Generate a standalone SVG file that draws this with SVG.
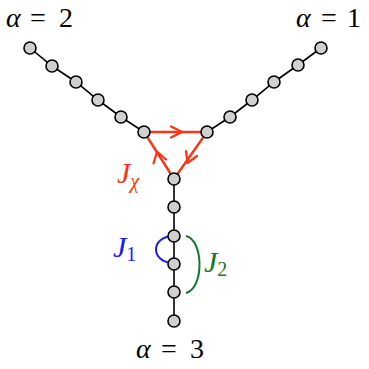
<svg xmlns="http://www.w3.org/2000/svg" width="369" height="369" viewBox="0 0 369 369">
<style>
.n{fill:#d0d0d0;stroke:#000;stroke-width:1.6}
.e{stroke:#000;stroke-width:1.6;fill:none}
.r{stroke:#ff3311;stroke-width:2.4;fill:none}
.ah{stroke:#ff3311;stroke-width:2.2;fill:none;stroke-linecap:round;stroke-linejoin:round}
</style>
<rect width="369" height="369" fill="#fff"/>
<g id="connectors">
<polyline class="e" points="30,48 52,66 76,82 98,100 121,117 144,132"/>
<polyline class="e" points="321,48 298,65 274,82 252,100 230,117 207,132"/>
<polyline class="e" points="174,179 174,321"/>
<path class="r" d="M144,132 L207,132 L174,179 Z"/>
<path class="ah" d="M171,126.5 L182,132 L171,137.5"/>
<path class="ah" d="M186,151 L187.5,163 L197,156"/>
<path class="ah" d="M153.5,163.5 L157,151.5 L166,159.5"/>
<path d="M174,236 C150,236 150,263 174,263" stroke="#1a1aff" stroke-width="2" fill="none"/>
<path d="M186,236 C204,240 204,289 186,293" stroke="#117a2a" stroke-width="2" fill="none"/>
</g>
<g id="nodes">
<circle class="n" cx="30" cy="48" r="6"/>
<circle class="n" cx="52" cy="66" r="6"/>
<circle class="n" cx="76" cy="82" r="6"/>
<circle class="n" cx="98" cy="100" r="6"/>
<circle class="n" cx="121" cy="117" r="6"/>
<circle class="n" cx="144" cy="132" r="6"/>
<circle class="n" cx="321" cy="48" r="6"/>
<circle class="n" cx="298" cy="65" r="6"/>
<circle class="n" cx="274" cy="82" r="6"/>
<circle class="n" cx="252" cy="100" r="6"/>
<circle class="n" cx="230" cy="117" r="6"/>
<circle class="n" cx="207" cy="132" r="6"/>
<circle class="n" cx="174" cy="179" r="6"/>
<circle class="n" cx="174" cy="207" r="6"/>
<circle class="n" cx="174" cy="236" r="6"/>
<circle class="n" cx="174" cy="264" r="6"/>
<circle class="n" cx="174" cy="292" r="6"/>
<circle class="n" cx="174" cy="321" r="6"/>
</g>
<g id="labels" font-family="'Liberation Serif', 'DejaVu Serif', serif" font-size="28" fill="#000">
<text x="6" y="27"><tspan font-style="italic">α</tspan><tspan x="30">=</tspan><tspan x="59">2</tspan></text>
<text x="296" y="27"><tspan font-style="italic">α</tspan><tspan x="321">=</tspan><tspan x="347">1</tspan></text>
<text x="136" y="358"><tspan font-style="italic">α</tspan><tspan x="161">=</tspan><tspan x="190">3</tspan></text>
<text font-style="italic" font-size="30" x="117" y="183" fill="#ff3311">J<tspan font-size="20" dy="5">χ</tspan></text>
<text font-style="italic" font-size="30" x="113" y="257" fill="#1a1aff">J<tspan font-size="20" font-style="normal" dy="4">1</tspan></text>
<text font-style="italic" font-size="30" x="204" y="272" fill="#117a2a">J<tspan font-size="20" font-style="normal" dy="4">2</tspan></text>
</g>
</svg>
